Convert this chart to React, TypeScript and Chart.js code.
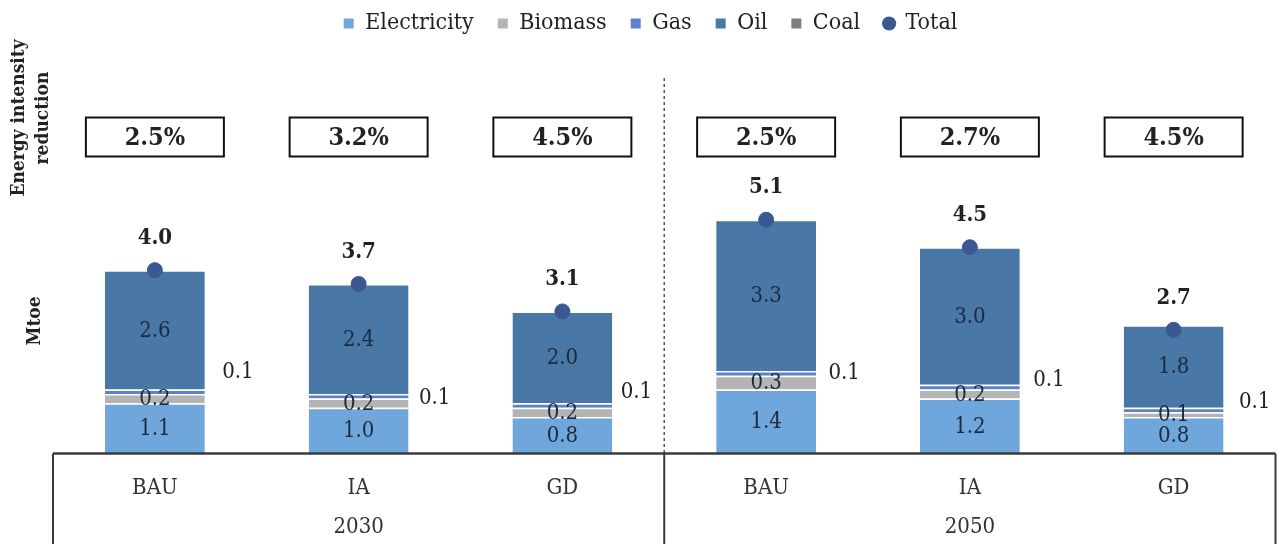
import React, { useEffect, useRef } from "react";
import { Chart, registerables } from "chart.js";

Chart.register(...registerables);

// Scenario categories (grouped by target year)
const scenarios = ["BAU", "IA", "GD", "BAU", "IA", "GD"];
const years = ["2030", "2050"];

// Final energy consumption by source, Mtoe
const electricity = [1.1, 1.0, 0.8, 1.4, 1.2, 0.8];
const biomass = [0.2, 0.2, 0.2, 0.3, 0.2, 0.1];
const gas = [0.1, 0.1, 0.1, 0.1, 0.1, 0.1];
const oil = [2.6, 2.4, 2.0, 3.3, 3.0, 1.8];
const coal = [0, 0, 0, 0, 0, 0];
const total = [4.0, 3.7, 3.1, 5.1, 4.5, 2.7];

// Annual energy intensity reduction per scenario
const intensityReduction = ["2.5%", "3.2%", "4.5%", "2.5%", "2.7%", "4.5%"];

const SERIF = "'DejaVu Serif Condensed', 'DejaVu Serif', serif";
const TEXT = "#222222";

const COLORS = {
  electricity: "#6fa6db",
  biomass: "#b4b4b4",
  gas: "#5e82c8",
  oil: "#4a78a6",
  coal: "#7f7f7f",
  total: "#3b5893",
};

// hand-placed nudges (px) for the gas labels that sit beside each bar
const GAS_LABEL_NUDGE: [number, number][] = [
  [83, -19],
  [76, 2],
  [74, -13],
  [78, 0],
  [79, -7],
  [81, -8],
];

const annotations = {
  id: "annotations",
  afterLayout(chart: any) {
    // nudge the legend slightly left of the canvas centre
    if (chart.legend) {
      chart.legend.left -= 15;
      chart.legend.right -= 15;
    }
  },
  afterDatasetsDraw(chart: any) {
    const ctx = chart.ctx;
    const x = chart.scales.x;
    ctx.save();
    ctx.textAlign = "center";
    ctx.textBaseline = "middle";

    // value labels inside the bars
    [0, 1, 3].forEach((di) => {
      const meta = chart.getDatasetMeta(di);
      const values = chart.data.datasets[di].data;
      meta.data.forEach((bar: any, i: number) => {
        ctx.font = `22px ${SERIF}`;
        ctx.fillStyle = "#1c2a3d";
        ctx.fillText(values[i].toFixed(1), bar.x, (bar.y + bar.base) / 2 + 1);
      });
    });

    // gas values beside the bars
    {
      const meta = chart.getDatasetMeta(2);
      const values = chart.data.datasets[2].data;
      meta.data.forEach((bar: any, i: number) => {
        const [dx, dy] = GAS_LABEL_NUDGE[i];
        ctx.font = `22px ${SERIF}`;
        ctx.fillStyle = TEXT;
        ctx.fillText(values[i].toFixed(1), bar.x + dx, (bar.y + bar.base) / 2 + dy);
      });
    }

    // totals above the markers
    {
      const meta = chart.getDatasetMeta(5);
      const values = chart.data.datasets[5].data;
      meta.data.forEach((pt: any, i: number) => {
        ctx.font = `bold 22px ${SERIF}`;
        ctx.fillStyle = TEXT;
        ctx.fillText(values[i].toFixed(1), pt.x, pt.y - 32);
      });
    }

    // intensity reduction boxes
    scenarios.forEach((_, i) => {
      const cx = x.getPixelForValue(i);
      const w = 138;
      const h = 39;
      const cy = 137;
      ctx.lineWidth = 2;
      ctx.strokeStyle = "#111";
      ctx.strokeRect(cx - w / 2, cy - h / 2, w, h);
      ctx.font = `bold 25px ${SERIF}`;
      ctx.fillStyle = TEXT;
      ctx.fillText(intensityReduction[i], cx, cy + 1);
    });

    ctx.restore();
  },
  afterDraw(chart: any) {
    const ctx = chart.ctx;
    const area = chart.chartArea;
    const x = chart.scales.x;
    const mid = (x.getPixelForValue(2) + x.getPixelForValue(3)) / 2;
    const H = chart.height;
    ctx.save();

    // dashed divider between the two years
    ctx.setLineDash([3, 3]);
    ctx.lineWidth = 1.5;
    ctx.strokeStyle = "#555";
    ctx.beginPath();
    ctx.moveTo(mid, 78);
    ctx.lineTo(mid, area.bottom);
    ctx.stroke();
    ctx.setLineDash([]);

    // category table lines
    ctx.strokeStyle = "#3a3a3a";
    ctx.lineWidth = 2.5;
    ctx.beginPath();
    ctx.moveTo(area.left, area.bottom);
    ctx.lineTo(area.right, area.bottom);
    ctx.stroke();
    ctx.lineWidth = 2;
    [area.left, mid, area.right].forEach((px) => {
      ctx.beginPath();
      ctx.moveTo(px, area.bottom);
      ctx.lineTo(px, H);
      ctx.stroke();
    });

    // year labels
    ctx.font = `22px ${SERIF}`;
    ctx.fillStyle = "#333";
    ctx.textAlign = "center";
    ctx.textBaseline = "middle";
    years.forEach((yr, g) => {
      const cx = (x.getPixelForValue(g * 3) + x.getPixelForValue(g * 3 + 2)) / 2;
      ctx.fillText(yr, cx, 527);
    });

    // rotated axis titles
    ctx.font = `bold 19px ${SERIF}`;
    ctx.fillStyle = TEXT;
    const vtext = (t: string, px: number, py: number) => {
      ctx.save();
      ctx.translate(px, py);
      ctx.rotate(-Math.PI / 2);
      ctx.fillText(t, 0, 0);
      ctx.restore();
    };
    vtext("Energy intensity", 19, 118);
    vtext("reduction", 43, 118);
    vtext("Mtoe", 35, 321);

    ctx.restore();
  },
};

function barSet(label: string, data: number[], color: string) {
  return {
    type: "bar" as const,
    label,
    data,
    backgroundColor: color,
    borderColor: "#ffffff",
    borderWidth: { top: 1.5, right: 0, bottom: 0, left: 0 },
    borderSkipped: "start",
    pointStyle: "rect",
    stack: "energy",
    order: 1,
    barPercentage: 0.49,
    categoryPercentage: 1,
  };
}

export default function App() {
  const ref = useRef<HTMLCanvasElement>(null);

  useEffect(() => {
    if (!ref.current) return;
    const chart = new Chart(ref.current, {
      data: {
        labels: scenarios,
        datasets: [
          barSet("Electricity", electricity, COLORS.electricity),
          barSet("Biomass", biomass, COLORS.biomass),
          barSet("Gas", gas, COLORS.gas),
          barSet("Oil", oil, COLORS.oil),
          barSet("Coal", coal, COLORS.coal),
          {
            type: "line" as const,
            label: "Total",
            data: total,
            showLine: false,
            pointStyle: "circle",
            pointRadius: 7.5,
            pointBackgroundColor: COLORS.total,
            pointBorderColor: COLORS.total,
            backgroundColor: COLORS.total,
            borderColor: COLORS.total,
            stack: "total",
            order: 0,
          },
        ],
      } as any,
      options: {
        responsive: false,
        animation: false,
        devicePixelRatio: 1,
        layout: { padding: { left: 53, right: 6, top: -12, bottom: 30 } },
        plugins: {
          tooltip: { enabled: false },
          legend: {
            position: "top",
            labels: {
              usePointStyle: true,
              boxWidth: 10,
              boxHeight: 10,
              padding: 24,
              color: TEXT,
              font: { family: SERIF, size: 23 },
              sort: (a: any, b: any) => a.datasetIndex - b.datasetIndex,
              generateLabels: (c: any) =>
                Chart.defaults.plugins.legend.labels
                  .generateLabels(c)
                  .map((l: any) => ({ ...l, strokeStyle: l.fillStyle, lineWidth: 0 })),
            },
          },
        },
        scales: {
          x: {
            stacked: true,
            grid: { display: false },
            border: { display: false },
            ticks: {
              color: "#333",
              font: { family: SERIF, size: 22 },
              padding: 13,
            },
          },
          y: {
            display: false,
            stacked: true,
            min: 0,
            max: 8.91,
          },
        },
      } as any,
      plugins: [annotations],
    });
    return () => chart.destroy();
  }, []);

  return (
    <div style={{ position: "fixed", left: 0, top: 0, width: 1284, height: 544, background: "#fff" }}>
      <canvas ref={ref} width={1284} height={544} />
    </div>
  );
}
